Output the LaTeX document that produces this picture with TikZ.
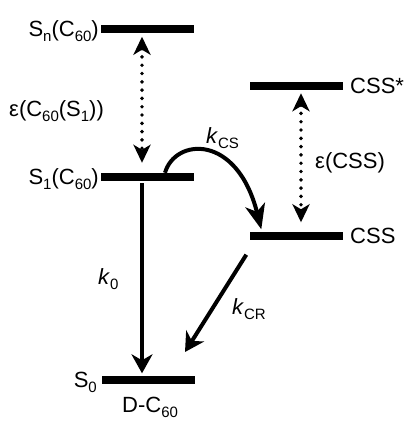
\documentclass[tikz,border=0pt]{standalone}
\usepackage{fontspec}
\setmainfont{Liberation Sans}
\usetikzlibrary{arrows.meta,calc}
% lowered, smaller text for subscripts
\newcommand\lowsub[1]{\raisebox{-5pt}{\fontsize{15}{15}\selectfont #1}}
\begin{document}
\begin{tikzpicture}[x=1pt,y=-1pt,
  level/.style={fill=black,inner sep=0pt,minimum width=93pt,minimum height=8pt},
  lbl/.style={inner sep=0pt,font=\fontsize{22}{22}\selectfont},
  solidarrow/.style={line width=4pt,-{Stealth[length=19pt,width=21pt,inset=6pt]}},
  dotarrow/.style={line width=3.9pt,line cap=round,dash pattern=on 0pt off 8.3pt,
    {Stealth[length=18pt,width=17pt,inset=5pt]}-{Stealth[length=18pt,width=17pt,inset=5pt]}}]
\useasboundingbox (0,0) rectangle (404,421);

% energy levels
\node[level] (Sn)   at (147,28.5) {};
\node[level] (S1)   at (147,177)  {};
\node[level] (S0)   at (148,380)  {};
\node[level] (CSSs) at (296,86)   {};
\node[level] (CSS)  at (296,235.5) {};

% level labels
\node[lbl,anchor=base east] (SnL) at (99,36.5) {S\lowsub{n}(C\lowsub{60})};
\node[lbl,anchor=base east] (S1L) at (99,184.5) {S\lowsub{1}(C\lowsub{60})};
\node[lbl,anchor=base east] (S0L) at (97,387.5) {S\lowsub{0}};
\node[lbl,anchor=base west] (CSSsL) at (350,93.5) {CSS*};
\node[lbl,anchor=base west] (CSSL) at (350,243.5) {CSS};
\node[lbl,anchor=base west] (DC) at (122,412.5) {D-C\lowsub{60}};

% transition labels
\node[lbl,anchor=base west] (epsC) at (9,116) {ε(C\lowsub{60}(S\lowsub{1}))};
\node[lbl,anchor=base west] (epsS) at (315,168) {ε(CSS)};
\node[lbl,anchor=base west] (kcs) at (206,143) {\textit{k}\lowsub{CS}};
\node[lbl,anchor=base west] (k0) at (98,284) {\textit{k}\lowsub{0}};
\node[lbl,anchor=base west] (kcr) at (232,314) {\textit{k}\lowsub{CR}};

% excitation energies
\draw[dotarrow] ($(Sn.south)+(-5,4)$) -- ($(S1.north)+(-5,-10)$);
\draw[dotarrow] ($(CSSs.south)+(5,3)$) -- ($(CSS.north)+(5,-9)$);

% decay, charge separation and recombination
\draw[solidarrow] ($(S1.south)+(-5,2)$) -- ($(S0.north)+(-6,-2.5)$);
\coordinate (csStart) at ($(S1.north)+(18,0)$);
\coordinate (csEnd) at ($(CSS.north west)+(12,-2)$);
\draw[line width=4pt,-{Stealth[length=25pt,width=20pt,inset=7pt]}]
  (csStart) .. controls (175,138) and (237,133) .. (csEnd);
\coordinate (crStart) at ($(CSS.south west)+(-3,15)$);
\coordinate (crEnd) at (185,352);
\draw[solidarrow] (crStart) -- (crEnd);
\end{tikzpicture}
\end{document}
